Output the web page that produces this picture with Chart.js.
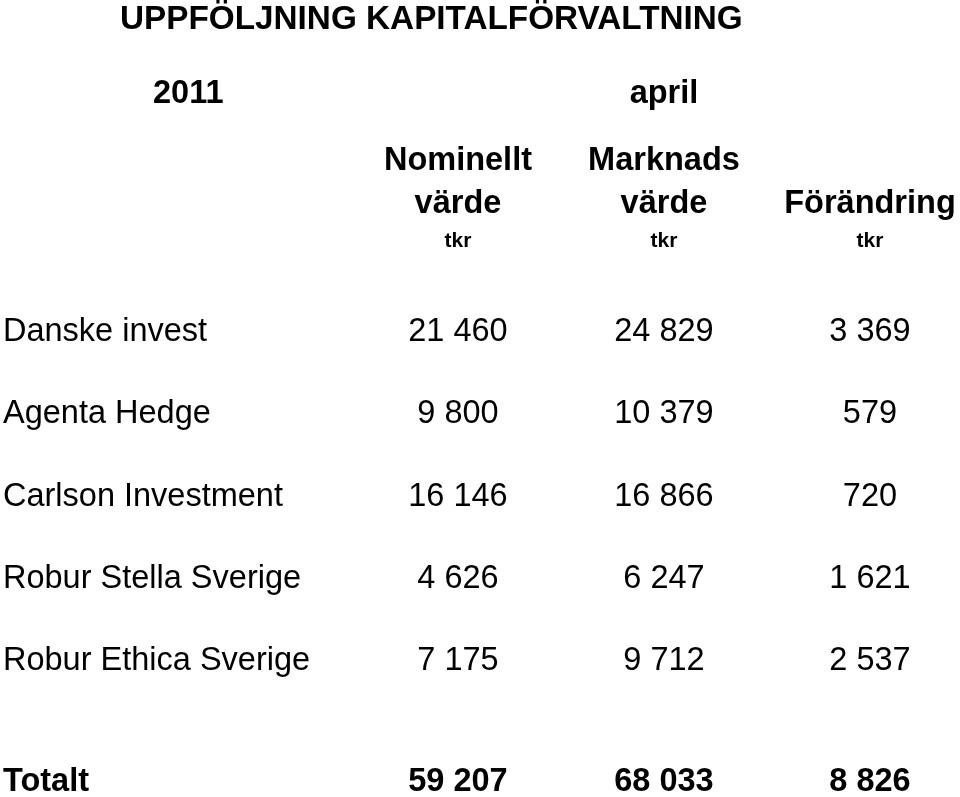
<!DOCTYPE html>
<html>
<head>
<meta charset="utf-8">
<script src="https://cdn.jsdelivr.net/npm/chart.js@4"></script>
<style>
  html, body { margin: 0; padding: 0; background: #fff; }
  #wrap { width: 960px; height: 797px; position: relative; }
</style>
</head>
<body>
<div id="wrap"><canvas id="chart"></canvas></div>
<script>
var FONT = '"Liberation Sans", Arial, Helvetica, sans-serif';

var TITLE = 'UPPFÖLJNING KAPITALFÖRVALTNING';
var YEAR = '2011';
var MONTH = 'april';
var HEADERS = [['Nominellt', 'värde'], ['Marknads', 'värde'], ['Förändring']];
var UNIT = 'tkr';

var FUNDS = ['Danske invest', 'Agenta Hedge', 'Carlson Investment', 'Robur Stella Sverige', 'Robur Ethica Sverige'];
var TOTAL_LABEL = 'Totalt';
var NOMINAL = [21460, 9800, 16146, 4626, 7175];
var MARKET = [24829, 10379, 16866, 6247, 9712];
var CHANGE = [3369, 579, 720, 1621, 2537];
var TOTALS = [59207, 68033, 8826];

// row positions on the y scale, total row sits a bit lower
var ROWS = [0, 1, 2, 3, 4, 5.47];
var ROW_LABELS = FUNDS.concat([TOTAL_LABEL]);

function fmt(v) {
  return String(v).replace(/\B(?=(\d{3})+(?!\d))/g, ' ');
}

function column(values, total, col) {
  var pts = values.map(function(v, i) {
    return { x: col, y: ROWS[i], v: v };
  });
  pts.push({ x: col, y: ROWS[ROWS.length - 1], v: total, total: true });
  return pts;
}

var tablePlugin = {
  id: 'tableText',
  afterDraw: function(chart) {
    var c = chart.ctx;
    var xs = chart.scales.x;
    c.save();
    c.fillStyle = '#000';
    c.textBaseline = 'middle';

    // numbers at each (column, row) point
    chart.data.datasets.forEach(function(ds, di) {
      var meta = chart.getDatasetMeta(di);
      meta.data.forEach(function(el, i) {
        var p = ds.data[i];
        c.font = (p.total ? 'bold ' : '') + '32.5px ' + FONT;
        c.textAlign = 'center';
        c.fillText(fmt(p.v), el.x, el.y);
      });
    });

    // title and period
    c.textAlign = 'left';
    c.font = 'bold 33.3px ' + FONT;
    c.fillText(TITLE, 120, 20);
    c.font = 'bold 32.5px ' + FONT;
    c.fillText(YEAR, 153, 94);
    c.textAlign = 'center';
    c.fillText(MONTH, xs.getPixelForValue(2), 94);

    // column headers
    HEADERS.forEach(function(lines, i) {
      var x = xs.getPixelForValue(i + 1);
      c.font = 'bold 32.5px ' + FONT;
      var ys = lines.length == 2 ? [161, 204] : [204];
      lines.forEach(function(t, j) {
        c.fillText(t, x, ys[j]);
      });
      c.font = 'bold 21px ' + FONT;
      c.fillText(UNIT, x, 241);
    });
    c.restore();
  }
};

var ctx = document.getElementById('chart');
var chart = new Chart(ctx, {
  type: 'scatter',
  data: {
    datasets: [
      { label: 'Nominellt värde', data: column(NOMINAL, TOTALS[0], 1) },
      { label: 'Marknads värde', data: column(MARKET, TOTALS[1], 2) },
      { label: 'Förändring', data: column(CHANGE, TOTALS[2], 3) }
    ]
  },
  options: {
    responsive: true,
    maintainAspectRatio: false,
    animation: false,
    layout: { padding: { top: 291, left: 3, right: 0, bottom: 0 } },
    elements: { point: { radius: 0, hoverRadius: 0 } },
    plugins: {
      legend: { display: false },
      tooltip: { enabled: false }
    },
    scales: {
      x: {
        type: 'linear',
        display: false,
        min: 0.306,
        max: 3.437
      },
      y: {
        type: 'linear',
        reverse: true,
        min: -0.5,
        max: 5.65,
        grid: { display: false },
        border: { display: false },
        afterBuildTicks: function(scale) {
          scale.ticks = ROWS.map(function(v) { return { value: v }; });
        },
        afterFit: function(scale) {
          scale.width = 312;
          scale.paddingTop = 0;
          scale.paddingBottom = 0;
        },
        ticks: {
          autoSkip: false,
          crossAlign: 'far',
          padding: 0,
          color: '#000',
          font: function(c) {
            return { family: FONT, size: 32.5, weight: c.index == 5 ? 'bold' : 'normal' };
          },
          callback: function(value, index) {
            return ROW_LABELS[index];
          }
        }
      }
    }
  },
  plugins: [tablePlugin]
});
</script>
</body>
</html>
